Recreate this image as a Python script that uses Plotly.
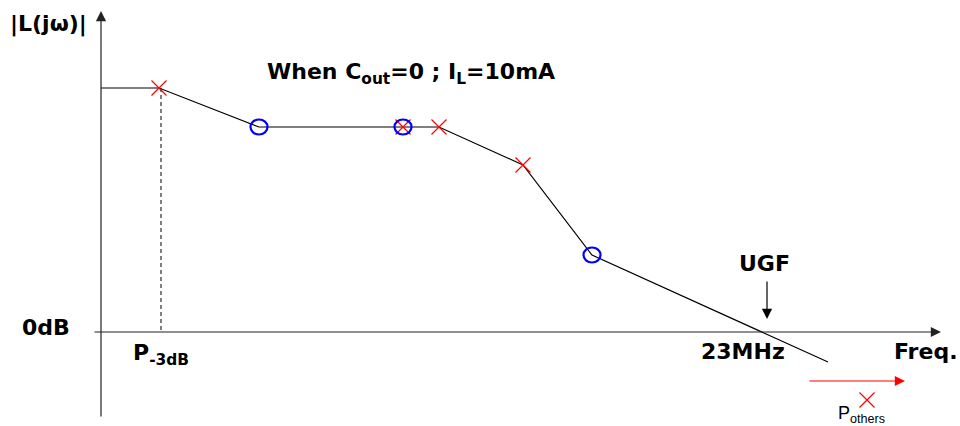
import plotly.graph_objects as go

# Asymptotic loop-gain magnitude, drawn in a 960 x 426 canvas frame (y grows downward)
bode_x = [101, 159, 259, 403, 439, 523, 592, 828]
bode_y = [88, 88, 127, 127, 127, 165, 255, 362]

# Pole (x) and zero (o) locations on the asymptote
pole_x = [159, 403, 439, 523]
pole_y = [88, 127, 127, 165]
zero_x = [259, 403, 592]
zero_y = [127, 127, 255]

# Far-away poles marker
other_pole_x = [867]
other_pole_y = [400]

# -3dB marker guide
p3db_x = [161, 161]
p3db_y = [88, 332]

zero_db_level = 332
axis_origin_x = 101

BOLD_FONT = "DejaVu Sans, Verdana, sans-serif"
PLAIN_FONT = "Liberation Sans, Arial, sans-serif"

fig = go.Figure()

fig.add_trace(go.Scatter(
    x=p3db_x, y=p3db_y, mode="lines",
    line=dict(color="black", width=1, dash="4px,3px"),
    hoverinfo="skip", showlegend=False))

fig.add_trace(go.Scatter(
    x=bode_x, y=bode_y, mode="lines",
    line=dict(color="black", width=1.2),
    hoverinfo="skip", showlegend=False))

fig.add_trace(go.Scatter(
    x=pole_x + other_pole_x, y=pole_y + other_pole_y, mode="markers",
    marker=dict(symbol="x-thin-open", size=15, color="red", line=dict(width=1.2, color="red")),
    hoverinfo="skip", showlegend=False))

# Zeros drawn as slightly flattened open ellipses around each zero location
shapes = []
for zx, zy in zip(zero_x, zero_y):
    shapes.append(dict(
        type="circle", xref="x", yref="y",
        x0=zx - 8.5, x1=zx + 8.5, y0=zy - 7.5, y1=zy + 7.5,
        line=dict(color="blue", width=2.2), fillcolor="rgba(0,0,0,0)"))

annotations = []

def arrow(x0, y0, x1, y1, color="black", width=1.2, size=1.7):
    annotations.append(dict(
        x=x1, y=y1, ax=x0, ay=y0, xref="x", yref="y", axref="x", ayref="y",
        showarrow=True, arrowhead=2, arrowsize=size, arrowwidth=width,
        arrowcolor=color, text=""))

# Axes
arrow(axis_origin_x, 418, axis_origin_x, 11, color="#222")
arrow(93, zero_db_level, 941, zero_db_level, color="#222")
# UGF pointer
arrow(767, 280, 767, 319)
# Other poles pushed out
arrow(808, 381, 905, 381, color="red")

def label(x, y, text, size=22, bold=True, color="black"):
    annotations.append(dict(
        x=x, y=y, xref="x", yref="y", text=(f"<b>{text}</b>" if bold else text),
        showarrow=False, xanchor="left", yanchor="middle",
        font=dict(family=BOLD_FONT if bold else PLAIN_FONT, size=size, color=color)))

label(8, 24, "|L(jω)|")
label(265, 73, "When C<sub>out</sub>=0 ; I<sub>L</sub>=10mA")
label(20, 327, "0dB")
label(131, 354, "P<sub>-3dB</sub>")
label(737, 263, "UGF")
label(699, 351, "23MHz")
label(892, 351, "Freq.")
label(836, 414, "P<sub>others</sub>", size=18, bold=False)

fig.update_layout(
    width=960, height=426,
    margin=dict(l=0, r=0, t=0, b=0),
    paper_bgcolor="white", plot_bgcolor="white",
    xaxis=dict(range=[0, 960], visible=False, fixedrange=True),
    yaxis=dict(range=[426, 0], visible=False, fixedrange=True),
    shapes=shapes,
    annotations=annotations,
    showlegend=False,
)

fig.write_html("out.html")
